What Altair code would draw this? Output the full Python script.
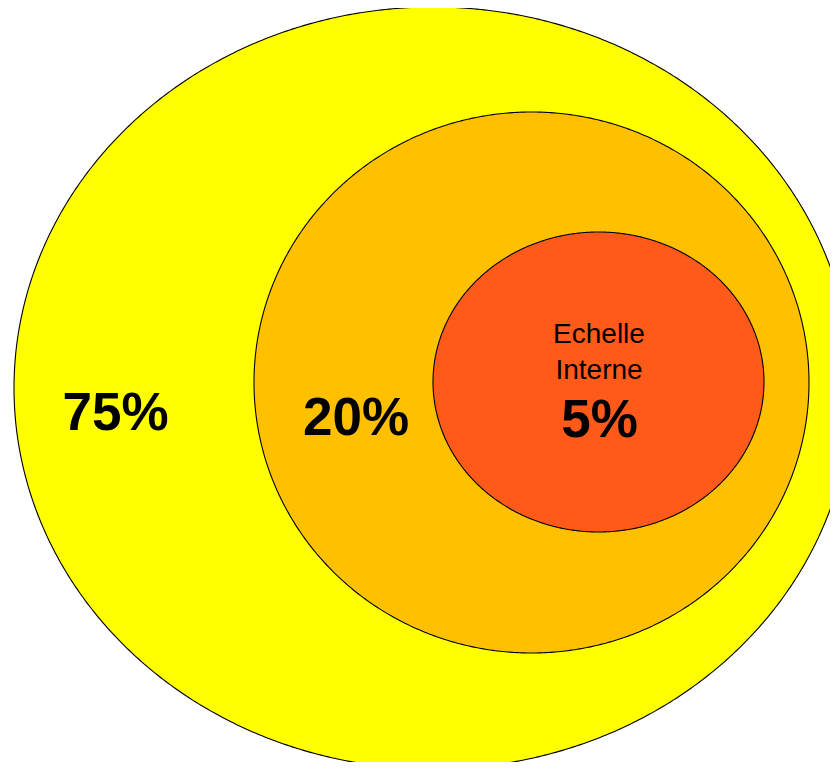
import altair as alt
import numpy as np
import pandas as pd

# Nested ellipses (page pixel coordinates)
names = ["Externe", "Intermédiaire", "Interne"]
centers_x = [433.0, 531.5, 598.5]
centers_y = [388.0, 382.5, 382.0]
radii_x = [419.0, 277.5, 165.5]
radii_y = [381.0, 270.5, 150.0]
fills = ["#FFFF00", "#FFC000", "#FF5A1A"]

# Labels
label_texts = ["75%", "20%", "Echelle", "Interne", "5%"]
label_x = [115.5, 356.0, 599.0, 599.0, 599.5]
label_y = [430.0, 435.0, 343.0, 379.0, 437.0]
label_sizes = [53, 53, 28, 28, 53]
label_weights = ["bold", "bold", "normal", "normal", "bold"]

W, H = 822, 754
X0, Y0 = 8, 8

rows = []
t = np.linspace(0, np.pi, 361)
for n, cx, cy, rx, ry in zip(names, centers_x, centers_y, radii_x, radii_y):
    for tt in t:
        rows.append({
            "name": n,
            "x": cx - rx * np.cos(tt),
            "y": cy - ry * np.sin(tt),
            "y2": cy + ry * np.sin(tt),
        })
ell = pd.DataFrame(rows)

labels = pd.DataFrame({
    "text": label_texts, "x": label_x, "y": label_y,
    "size": label_sizes, "weight": label_weights,
})

xs = alt.Scale(domain=[X0, X0 + W], nice=False, zero=False)
ys = alt.Scale(domain=[Y0, Y0 + H], nice=False, zero=False, reverse=True)

layers = []
for n, f in zip(names, fills):
    layers.append(
        alt.Chart(ell).transform_filter(alt.datum.name == n)
        .mark_area(fill=f, stroke="black", strokeWidth=1.1, clip=True, interpolate="linear")
        .encode(
            x=alt.X("x:Q", scale=xs, axis=None),
            y=alt.Y("y:Q", scale=ys, axis=None),
            y2="y2:Q",
        )
    )

for wgt in ["bold", "normal"]:
    layers.append(
        alt.Chart(labels).transform_filter(alt.datum.weight == wgt)
        .mark_text(font="Liberation Sans", fontWeight=wgt, align="center",
                   baseline="alphabetic", color="black")
        .encode(
            x=alt.X("x:Q", scale=xs, axis=None),
            y=alt.Y("y:Q", scale=ys, axis=None),
            text="text:N",
            size=alt.Size("size:Q", scale=None, legend=None),
        )
    )

chart = alt.layer(*layers).properties(
    width=W, height=H, padding=0, autosize=alt.AutoSizeParams(type="none"),
    background="white",
).configure_view(stroke=None)

chart.save("out.html", embed_options={"renderer": "svg", "actions": False})
